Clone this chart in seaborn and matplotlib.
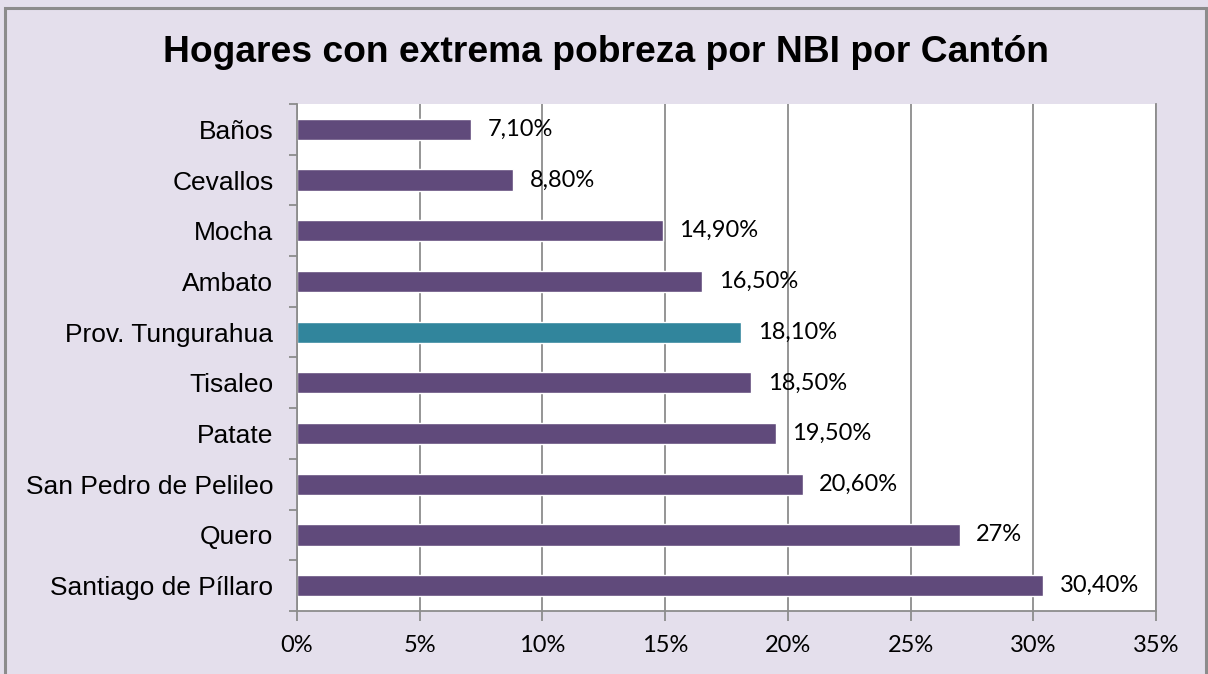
import matplotlib
matplotlib.use("Agg")
import matplotlib.pyplot as plt
import matplotlib.patches as mpatches
from matplotlib.ticker import FuncFormatter, FixedLocator
import seaborn as sns

# datos
cantones = ["Baños", "Cevallos", "Mocha", "Ambato", "Prov. Tungurahua",
            "Tisaleo", "Patate", "San Pedro de Pelileo", "Quero", "Santiago de Píllaro"]
porcentajes = [7.1, 8.8, 14.9, 16.5, 18.1, 18.5, 19.5, 20.6, 27.0, 30.4]
etiquetas = ["7,10%", "8,80%", "14,90%", "16,50%", "18,10%",
             "18,50%", "19,50%", "20,60%", "27%", "30,40%"]
colores = ["#604A7B"] * 4 + ["#31859C"] + ["#604A7B"] * 5

sns.set_style("white")
plt.rcParams['font.family'] = ['Liberation Sans', 'DejaVu Sans']
plt.rcParams['text.color'] = 'black'
plt.rcParams['xtick.labelcolor'] = 'black'
plt.rcParams['ytick.labelcolor'] = 'black'

fig = plt.figure(figsize=(12.08, 6.74), dpi=100)
fig.patch.set_facecolor("#E4DFEC")
# marco exterior
fig.add_artist(mpatches.Rectangle((5 / 1208, -0.01), 1201 / 1208, 1 - 8 / 674 + 0.01,
                                  transform=fig.transFigure, fill=False,
                                  edgecolor="#8C8C8C", linewidth=2.2))

ax = fig.add_axes([297 / 1208, 1 - 611 / 674, (1156 - 297) / 1208, (611 - 104) / 674])
ax.set_facecolor("white")

sns.barplot(x=porcentajes, y=cantones, hue=cantones, palette=colores,
            legend=False, width=0.42, orient="h", ax=ax, saturation=1)

for cont, lab in zip(ax.containers, etiquetas):
    ax.bar_label(cont, labels=[lab], padding=12, fontsize=17,
                 family=['Lato', 'DejaVu Sans'], color="black")

ax.set_xlim(0, 35)
ax.set_ylim(len(cantones) - 0.5, -0.5)
ax.xaxis.set_major_locator(FixedLocator([0, 5, 10, 15, 20, 25, 30, 35]))
ax.xaxis.set_major_formatter(FuncFormatter(lambda v, p: f"{v:.0f}%"))
ax.grid(axis="x", color="#8C8C8C", linewidth=1.3)
ax.set_axisbelow(True)

ax.yaxis.set_minor_locator(FixedLocator([i - 0.5 for i in range(len(cantones) + 1)]))
ax.tick_params(axis="y", which="major", length=0, pad=17, labelsize=19)
ax.tick_params(axis="y", which="minor", length=6, width=1.3, color="#8C8C8C", direction="out", left=True)
ax.tick_params(axis="x", which="major", length=7, width=1.3, color="#8C8C8C",
               direction="out", bottom=True, pad=10, labelsize=17)
for lab in ax.get_xticklabels():
    lab.set_family(['Lato', 'DejaVu Sans'])

ax.set_xlabel("")
ax.set_ylabel("")
for s in ["left", "bottom", "right"]:
    ax.spines[s].set_visible(True)
    ax.spines[s].set_color("#8C8C8C")
    ax.spines[s].set_linewidth(1.3)
ax.spines["top"].set_visible(False)

fig.text(606 / 1208, 1 - 52 / 674, "Hogares con extrema pobreza por NBI por Cantón",
         ha="center", va="center", fontsize=26.8, fontweight="bold")

fig.savefig("out.png", dpi=100, facecolor=fig.get_facecolor())
